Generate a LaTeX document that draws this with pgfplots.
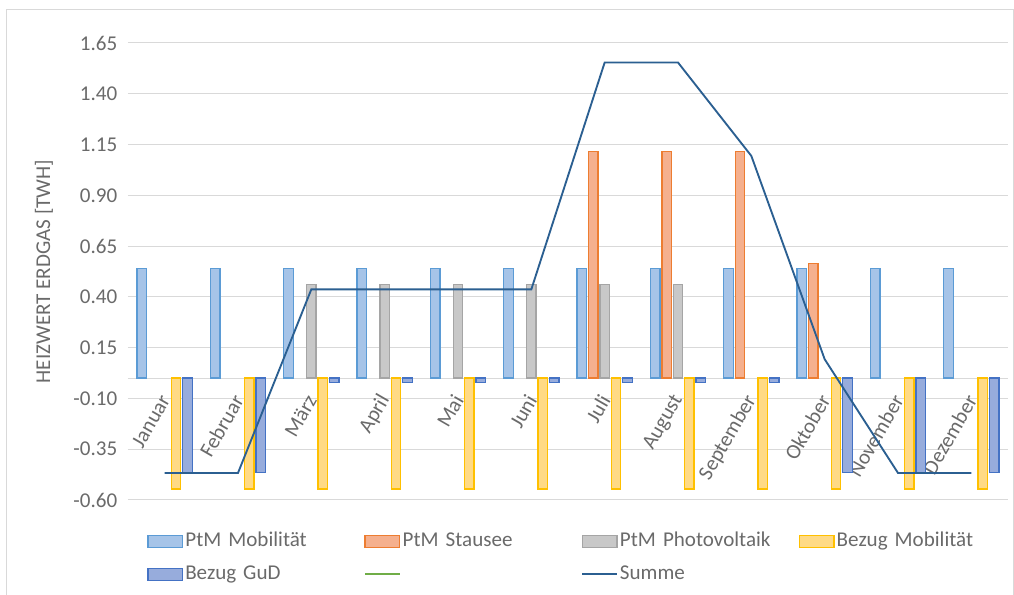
\documentclass[border=0pt]{standalone}
\usepackage{pgfplots}
\pgfplotsset{compat=1.18}
\usepackage{fontspec}
\setmainfont{Carlito}

\definecolor{txt}{HTML}{6A6A6A}
\definecolor{gridc}{HTML}{D9D9D9}
\definecolor{mobF}{HTML}{A6C4E8}
\definecolor{mobD}{HTML}{5B9BD5}
\definecolor{stauF}{HTML}{F5B08E}
\definecolor{stauD}{HTML}{ED7D31}
\definecolor{pvF}{HTML}{C8C8C8}
\definecolor{pvD}{HTML}{A5A5A5}
\definecolor{bmF}{HTML}{FFDA85}
\definecolor{bmD}{HTML}{FFC000}
\definecolor{gudF}{HTML}{97ACDC}
\definecolor{gudD}{HTML}{4472C4}
\definecolor{summe}{HTML}{2B5F91}
\definecolor{gruen}{HTML}{70AD47}

\newcommand{\fs}{\fontsize{15.8}{19}\selectfont}

\pgfplotsset{
  barleg/.style={legend image code/.code={\draw[##1] (0pt,-4.5pt) rectangle (26pt,4.5pt);}},
  lineleg/.style={legend image code/.code={\draw[##1] (0pt,0pt) -- (26pt,0pt);}},
  bar/.style={ybar, bar width=7.1pt, line width=1pt, barleg},
}

\begin{document}
\begin{tikzpicture}
\useasboundingbox (-96pt,-71.25pt) rectangle (664.5pt,375pt);
\draw[gridc, line width=0.75pt] (-90.75pt,-80pt) -- (-90.75pt,367.5pt) -- (663.75pt,367.5pt) -- (663.75pt,-80pt);
\begin{axis}[
  at={(0,0)}, anchor=south west,
  scale only axis, width=660pt, height=342.75pt,
  xmin=-0.5, xmax=11.5, ymin=-0.6, ymax=1.65,
  axis x line*=middle, axis y line*=left,
  y axis line style={draw=none},
  x axis line style={draw=gridc, line width=0.75pt},
  major tick length=0pt,
  ymajorgrids, grid style={gridc, line width=0.75pt},
  ytick={-0.6,-0.35,-0.1,0.15,0.4,0.65,0.9,1.15,1.4,1.65},
  xtick={0,...,11},
  xticklabels={Januar,Februar,März,April,Mai,Juni,Juli,August,September,Oktober,November,Dezember},
  /pgf/number format/assume math mode=true,
  /pgf/number format/fixed,
  /pgf/number format/fixed zerofill,
  /pgf/number format/precision=2,
  every tick label/.append style={font=\fs, text=txt},
  yticklabel style={xshift=-4.5pt},
  xticklabel style={xshift=2pt, yshift=-11pt, rotate=60, anchor=east},
  ylabel={HEIZWERT ERDGAS [TWH]},
  every axis y label/.style={at={(axis description cs:0,0.5)}, xshift=-63pt, rotate=90, anchor=center, font=\fs, text=txt},
  legend columns=4,
  legend cell align=left,
  legend style={at={(axis description cs:0.0216,-0.0686)}, anchor=north west, draw=none, fill=none,
    inner sep=0pt, row sep=10.25pt, font=\fs, text=txt,
    nodes={inner sep=0pt, text width=120pt, align=left, text height=11pt, text depth=3.5pt},
    /tikz/every odd column/.append style={column sep=1.5pt},
    /tikz/every even column/.append style={column sep=14.1pt}},
]
\addplot[bar, bar shift=-17.1pt, fill=mobF, draw=mobD] coordinates {
  (0,0.54) (1,0.54) (2,0.54) (3,0.54) (4,0.54) (5,0.54)
  (6,0.54) (7,0.54) (8,0.54) (9,0.54) (10,0.54) (11,0.54)};
\addlegendentry{PtM Mobilität}
\addplot[bar, bar shift=-8.55pt, fill=stauF, draw=stauD] coordinates {
  (6,1.117) (7,1.117) (8,1.117) (9,0.564)};
\addlegendentry{PtM Stausee}
\addplot[bar, bar shift=0pt, fill=pvF, draw=pvD] coordinates {
  (2,0.46) (3,0.46) (4,0.46) (5,0.46) (6,0.46) (7,0.46)};
\addlegendentry{PtM Photovoltaik}
\addplot[bar, bar shift=8.55pt, fill=bmF, draw=bmD] coordinates {
  (0,-0.546) (1,-0.546) (2,-0.546) (3,-0.546) (4,-0.546) (5,-0.546)
  (6,-0.546) (7,-0.546) (8,-0.546) (9,-0.546) (10,-0.546) (11,-0.546)};
\addlegendentry{Bezug Mobilität}
\addplot[bar, bar shift=17.1pt, fill=gudF, draw=gudD] coordinates {
  (0,-0.465) (1,-0.465) (2,-0.021) (3,-0.021) (4,-0.021) (5,-0.021)
  (6,-0.021) (7,-0.021) (8,-0.021) (9,-0.465) (10,-0.465) (11,-0.465)};
\addlegendentry{Bezug GuD}
\addlegendimage{lineleg, gruen, line width=1.4pt}
\addlegendentry{}
\addplot[lineleg, summe, line width=1.4pt, mark=none] coordinates {
  (0,-0.467) (1,-0.467) (2,0.437) (3,0.437) (4,0.437) (5,0.437)
  (6,1.554) (7,1.554) (8,1.094) (9,0.093) (10,-0.467) (11,-0.467)};
\addlegendentry{Summe}
\end{axis}
\end{tikzpicture}
\end{document}
